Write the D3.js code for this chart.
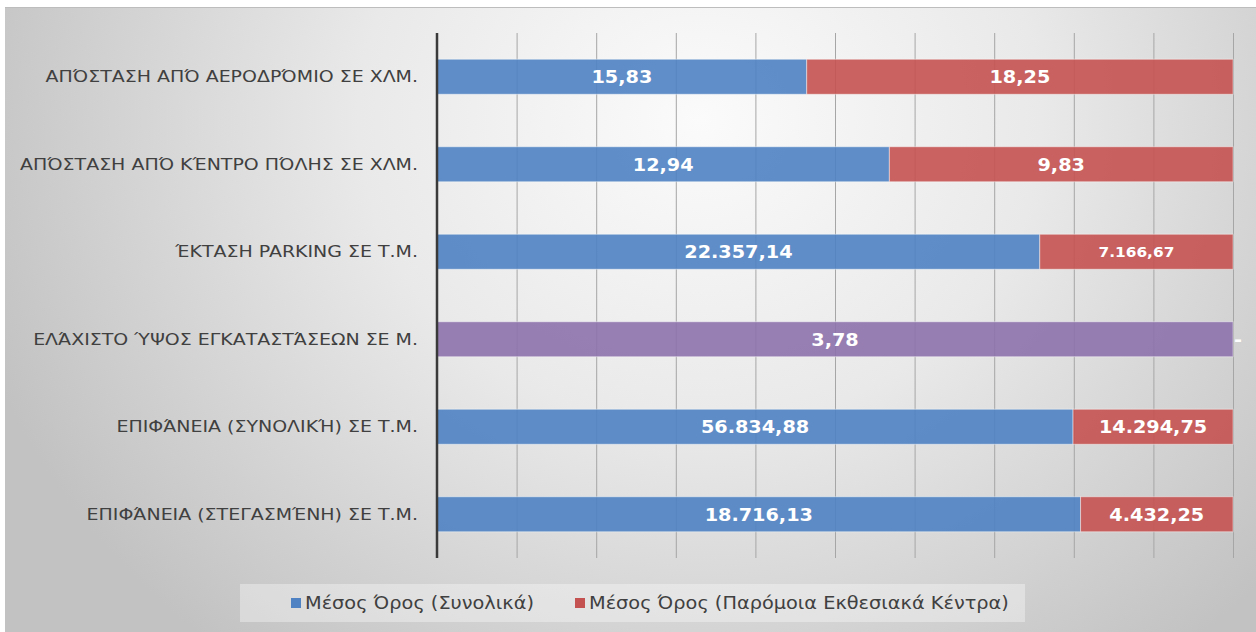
<!DOCTYPE html>
<html>
<head>
<meta charset="utf-8">
<script src="https://cdn.jsdelivr.net/npm/d3@7"></script>
<style>
  html, body { margin: 0; padding: 0; background: #ffffff; }
  svg { display: block; }
</style>
</head>
<body>
<svg id="chart" width="1256" height="632"></svg>
<script>
// Categories, top to bottom
const categories = [
  "ΑΠΌΣΤΑΣΗ ΑΠΌ ΑΕΡΟΔΡΌΜΙΟ ΣΕ ΧΛΜ.",
  "ΑΠΌΣΤΑΣΗ ΑΠΌ ΚΈΝΤΡΟ ΠΌΛΗΣ ΣΕ ΧΛΜ.",
  "ΈΚΤΑΣΗ PARKING ΣΕ Τ.Μ.",
  "ΕΛΆΧΙΣΤΟ ΎΨΟΣ ΕΓΚΑΤΑΣΤΆΣΕΩΝ ΣΕ Μ.",
  "ΕΠΙΦΆΝΕΙΑ (ΣΥΝΟΛΙΚΉ) ΣΕ Τ.Μ.",
  "ΕΠΙΦΆΝΕΙΑ (ΣΤΕΓΑΣΜΈΝΗ) ΣΕ Τ.Μ."
];
// Series values
const seriesNames = ["Μέσος Όρος (Συνολικά)", "Μέσος Όρος (Παρόμοια Εκθεσιακά Κέντρα)"];
const avgOverall = [15.83, 12.94, 22357.14, 3.78, 56834.88, 18716.13];
const avgSimilar = [18.25, 9.83, 7166.67, 0, 14294.75, 4432.25];
// Percentage axis ticks (no labels shown)
const xTicks = [0, 0.1, 0.2, 0.3, 0.4, 0.5, 0.6, 0.7, 0.8, 0.9, 1];

const seriesColors = ["#4f82c2", "#c45250"];
const singleColor = "#8d72ac"; // category with only one series value
const textColor = "#404040";
const FONT = "'DejaVu Sans', Verdana, sans-serif";
const SX = 1.15;      // horizontal widening of axis and legend text
const SX_VAL = 1.1;   // horizontal widening of value labels

const W = 1256, H = 632;
const margin = { left: 437, right: 23, top: 33, bottom: 74 };
const svg = d3.select("#chart");

// Background panel with soft radial shading
const defs = svg.append("defs");
const bg = defs.append("radialGradient").attr("id", "bgGrad")
  .attr("gradientUnits", "userSpaceOnUse")
  .attr("cx", 700).attr("cy", 120).attr("r", 760)
  .attr("gradientTransform", "translate(700,120) scale(1,0.9) translate(-700,-120)");
bg.append("stop").attr("offset", "0%").attr("stop-color", "#fbfbfb");
bg.append("stop").attr("offset", "45%").attr("stop-color", "#e9e9e9");
bg.append("stop").attr("offset", "100%").attr("stop-color", "#c2c2c2");

svg.append("rect").attr("x", 5).attr("y", 7).attr("width", W - 5).attr("height", H - 7)
  .attr("fill", "url(#bgGrad)");
svg.append("line").attr("x1", 5).attr("x2", W).attr("y1", 7.5).attr("y2", 7.5)
  .attr("stroke", "#bdbdbd").attr("stroke-width", 1);

// Data rows
const rows = categories.map((c, i) => ({ cat: c, idx: i, a: avgOverall[i], b: avgSimilar[i] }));
const stack = d3.stack().keys(["a", "b"]).offset(d3.stackOffsetExpand);
const stacked = stack(rows);

const x = d3.scaleLinear().domain([0, 1]).range([margin.left, W - margin.right]);
const y = d3.scaleBand().domain(categories).range([margin.top, H - margin.bottom])
  .paddingInner(0.6).paddingOuter(0.3);

// Vertical gridlines
const gridH = H - margin.bottom - margin.top;
const grid = svg.append("g")
  .attr("transform", `translate(0,${margin.top})`)
  .call(d3.axisBottom(x).tickValues(xTicks).tickSize(gridH).tickFormat(""));
grid.select(".domain").remove();
grid.selectAll(".tick line").attr("stroke", "#a6a6a6").attr("stroke-width", 1);

// Bars
const fmt = d3.formatLocale({ decimal: ",", thousands: ".", grouping: [3], currency: ["", "€"] }).format(",.2f");
const barG = svg.append("g");
stacked.forEach((layer, si) => {
  barG.selectAll(null).data(layer).join("rect")
    .attr("x", d => x(d[0]))
    .attr("y", d => y(d.data.cat))
    .attr("width", d => Math.max(0, x(d[1]) - x(d[0])))
    .attr("height", y.bandwidth())
    .attr("fill", d => (d.data.b === 0 ? singleColor : seriesColors[si]))
    .attr("fill-opacity", 0.9)
    .attr("stroke", "#ffffff").attr("stroke-opacity", 0.45).attr("stroke-width", 1);
});

// Value labels (the parking label of the second series is set smaller)
const smallLabel = { series: 1, index: 2 };
stacked.forEach((layer, si) => {
  barG.selectAll(null).data(layer).join("text")
    .attr("transform", d => {
      const v = si === 0 ? d.data.a : d.data.b;
      const cx = v === 0 ? x(d[1]) + 5 : (x(d[0]) + x(d[1])) / 2;
      const cy = y(d.data.cat) + y.bandwidth() / 2;
      return `translate(${cx},${cy}) scale(${SX_VAL},1)`;
    })
    .attr("dy", "0.36em")
    .attr("text-anchor", "middle")
    .attr("font-family", FONT)
    .attr("font-weight", "bold")
    .attr("font-size", d => (si === smallLabel.series && d.data.idx === smallLabel.index ? 14 : 17.5))
    .attr("fill", "#ffffff")
    .text(d => {
      const v = si === 0 ? d.data.a : d.data.b;
      return v === 0 ? "-" : fmt(v);
    });
});

// Category axis
const yAxis = svg.append("g")
  .attr("transform", `translate(${margin.left},0)`)
  .call(d3.axisLeft(y).tickSize(0).tickPadding(19));
yAxis.select(".domain").remove();
yAxis.selectAll("text")
  .attr("x", -19 / SX)
  .attr("transform", `scale(${SX},1)`)
  .attr("font-family", FONT)
  .attr("font-size", 16.5)
  .attr("fill", textColor);
svg.append("line")
  .attr("x1", margin.left).attr("x2", margin.left)
  .attr("y1", margin.top).attr("y2", H - margin.bottom)
  .attr("stroke", "#3a3a3a").attr("stroke-width", 2.5);

// Legend
const legend = svg.append("g");
legend.append("rect").attr("x", 240).attr("y", 584).attr("width", 785).attr("height", 38)
  .attr("fill", "#ffffff").attr("fill-opacity", 0.35);
const legendX = [291, 575];
seriesNames.forEach((name, i) => {
  legend.append("rect").attr("x", legendX[i]).attr("y", 598).attr("width", 10).attr("height", 10)
    .attr("fill", seriesColors[i]);
  legend.append("text")
    .attr("transform", `translate(${legendX[i] + 14},603) scale(${SX},1)`)
    .attr("dy", "0.36em")
    .attr("font-family", FONT)
    .attr("font-size", 16.8).attr("fill", textColor)
    .text(name);
});
</script>
</body>
</html>
